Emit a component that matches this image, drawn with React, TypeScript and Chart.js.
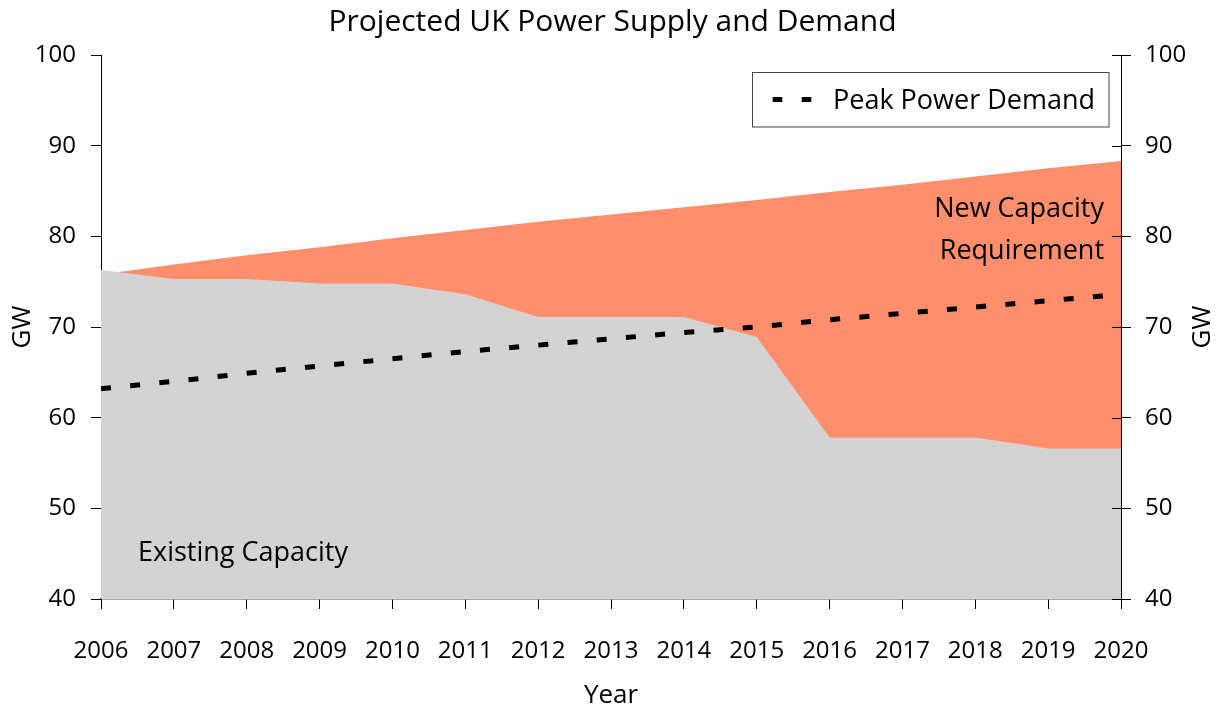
import React, { useEffect, useRef } from "react";
import { Chart, registerables } from "chart.js";

Chart.register(...registerables);

const years = ["2006", "2007", "2008", "2009", "2010", "2011", "2012", "2013", "2014", "2015", "2016", "2017", "2018", "2019", "2020"];
const existingCapacity = [76.3, 75.3, 75.3, 74.8, 74.8, 73.6, 71.1, 71.1, 71.1, 68.9, 57.8, 57.8, 57.8, 56.6, 56.6];
const totalRequirement = [75.8, 76.9, 77.9, 78.8, 79.8, 80.7, 81.6, 82.4, 83.2, 84.0, 84.9, 85.7, 86.6, 87.5, 88.3];
const peakDemand = [63.2, 64.0, 64.9, 65.7, 66.5, 67.3, 68.0, 68.7, 69.4, 70.0, 70.8, 71.5, 72.2, 72.9, 73.6];
const yTicks = [40, 50, 60, 70, 80, 90, 100];

const FONT = "'Open Sans', 'Noto Sans', sans-serif";
const WEIGHT = "500";
const ORANGE = "rgb(255,143,108)";
const GREY = "rgb(211,211,211)";

const overlayPlugin = {
  id: "overlay",
  afterDatasetsDraw(chart: any) {
    const { ctx, chartArea } = chart;
    const y = chart.scales.y;
    ctx.save();
    // inner part of right-axis ticks
    ctx.strokeStyle = "#000";
    ctx.lineWidth = 1;
    yTicks.forEach((v) => {
      const py = Math.round(y.getPixelForValue(v)) + 0.5;
      ctx.beginPath();
      ctx.moveTo(chartArea.right - 9, py);
      ctx.lineTo(chartArea.right, py);
      ctx.stroke();
    });
    // annotations
    ctx.fillStyle = "#000";
    ctx.font = `${WEIGHT} 27px ${FONT}`;
    ctx.textBaseline = "middle";
    ctx.textAlign = "right";
    ctx.fillText("New Capacity", 1104, 209);
    ctx.fillText("Requirement", 1104, 251);
    ctx.textAlign = "left";
    ctx.fillText("Existing Capacity", 138, 553);
    // legend
    ctx.fillStyle = "#fff";
    ctx.fillRect(752.5, 72.5, 356.5, 54.5);
    ctx.strokeStyle = "#444";
    ctx.lineWidth = 1;
    ctx.strokeRect(752.5, 72.5, 356.5, 54.5);
    ctx.strokeStyle = "#000";
    ctx.lineWidth = 5;
    ctx.setLineDash([9.6, 19.4]);
    ctx.beginPath();
    ctx.moveTo(772.7, 99.5);
    ctx.lineTo(811.3, 99.5);
    ctx.stroke();
    ctx.setLineDash([]);
    ctx.fillStyle = "#000";
    ctx.textAlign = "left";
    ctx.fillText("Peak Power Demand", 833, 101);
    // right axis title (reads bottom to top)
    ctx.font = `${WEIGHT} 26px ${FONT}`;
    ctx.translate(1203, (chartArea.top + chartArea.bottom) / 2);
    ctx.rotate(-Math.PI / 2);
    ctx.textAlign = "center";
    ctx.fillText("GW", 0, 0);
    ctx.restore();
  },
};

export default function App() {
  const canvasRef = useRef<HTMLCanvasElement | null>(null);

  useEffect(() => {
    const canvas = canvasRef.current;
    if (!canvas) return;
    const tickFont = { family: FONT, size: 24, weight: WEIGHT };
    const titleFont = { family: FONT, size: 26, weight: WEIGHT };
    const chart = new Chart(canvas, {
      type: "line",
      data: {
        labels: years,
        datasets: [
          {
            label: "Peak Power Demand",
            data: peakDemand,
            borderColor: "#000",
            borderWidth: 5,
            borderDash: [10, 19.3],
            borderCapStyle: "butt",
            pointRadius: 0,
            fill: false,
            tension: 0,
            yAxisID: "y",
          },
          {
            label: "Existing Capacity",
            data: existingCapacity,
            borderWidth: 0,
            borderColor: GREY,
            backgroundColor: GREY,
            pointRadius: 0,
            fill: "start",
            tension: 0,
            yAxisID: "y",
          },
          {
            label: "New Capacity Requirement",
            data: totalRequirement,
            borderWidth: 0,
            borderColor: ORANGE,
            backgroundColor: ORANGE,
            pointRadius: 0,
            fill: "start",
            tension: 0,
            yAxisID: "y",
          },
        ],
      },
      options: {
        responsive: false,
        animation: false,
        layout: { padding: 0 },
        plugins: {
          legend: { display: false },
          tooltip: { enabled: false },
          title: {
            display: true,
            text: "Projected UK Power Supply and Demand",
            color: "#000",
            font: { family: FONT, size: 30, weight: WEIGHT, lineHeight: 1.2 },
            padding: { top: 4, bottom: 15 },
          },
        },
        scales: {
          x: {
            type: "category",
            offset: false,
            afterFit: (s: any) => {
              s.height = 109;
            },
            grid: { drawOnChartArea: false, drawTicks: true, tickLength: 10, color: "#000" },
            border: { display: true, color: "#555", width: 1.5 },
            ticks: { color: "#000", font: tickFont, padding: 28, autoSkip: false, maxRotation: 0 },
            title: { display: true, text: "Year", color: "#000", font: titleFont, padding: { top: 0, bottom: -3 } },
          },
          y: {
            position: "left",
            min: 40,
            max: 100,
            afterFit: (s: any) => {
              s.width = 101;
            },
            afterBuildTicks: (s: any) => {
              s.ticks = yTicks.map((v) => ({ value: v }));
            },
            grid: { drawOnChartArea: false, drawTicks: true, tickLength: 10, color: "#000" },
            border: { display: true, color: "#000", width: 1 },
            ticks: { color: "#000", font: tickFont, padding: 15 },
            title: { display: true, text: "GW", color: "#000", font: titleFont, padding: { top: 7.4, bottom: 0 } },
          },
          y2: {
            position: "right",
            min: 40,
            max: 100,
            afterFit: (s: any) => {
              s.width = 104;
            },
            afterBuildTicks: (s: any) => {
              s.ticks = yTicks.map((v) => ({ value: v }));
            },
            grid: { drawOnChartArea: false, drawTicks: true, tickLength: 10, color: "#000" },
            border: { display: true, color: "#000", width: 1 },
            ticks: { color: "#000", font: tickFont, padding: 14 },
            title: { display: false },
          },
        },
      },
      plugins: [overlayPlugin],
    } as any);
    return () => chart.destroy();
  }, []);

  return (
    <div style={{ position: "absolute", left: 0, top: 0, width: 1225, height: 708, background: "#fff" }}>
      <canvas ref={canvasRef} width={1225} height={708} style={{ display: "block" }} />
    </div>
  );
}
